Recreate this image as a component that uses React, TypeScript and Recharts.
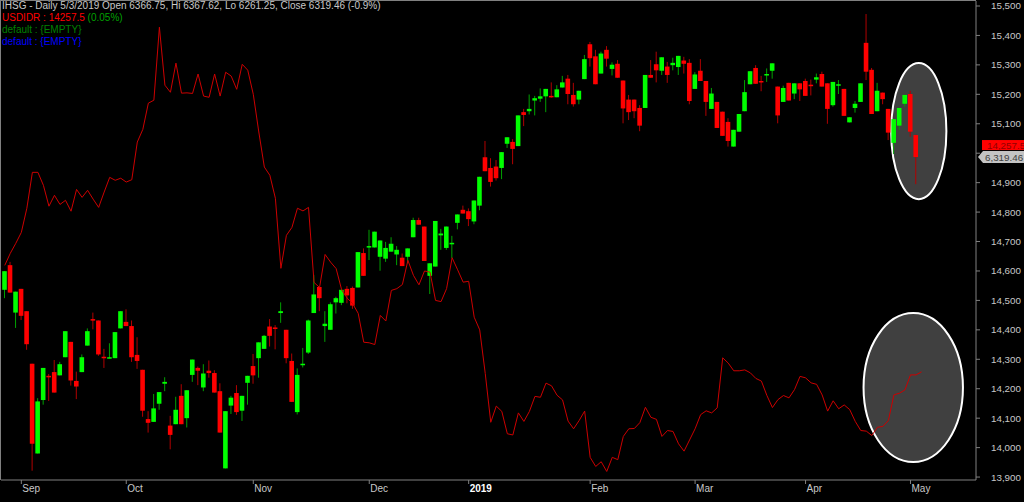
import React from "react";
import {
  ComposedChart,
  Bar,
  Line,
  XAxis,
  YAxis,
  ReferenceArea,
  ReferenceLine,
} from "recharts";

// IHSG daily candles, Aug 29 2018 .. May 3 2019 (one entry per trading day)
const opens = [
  6034, 6087, 5985, 6036, 5988, 5875, 5682, 5797, 5849, 5857,
  5850, 5889, 5922, 5838, 5857, 5914, 5971, 5968, 5890, 5887,
  5887, 5951, 5965, 5956, 5894, 5862, 5756, 5750, 5789, 5832,
  5742, 5745, 5806, 5758, 5851, 5866, 5824, 5860, 5855, 5816,
  5650, 5785, 5812, 5774, 5834, 5870, 5887, 5907, 5955, 5953,
  5984, 5948, 5881, 5771, 5872, 5899, 5984, 6040, 5956, 5948,
  6007, 6006, 6036, 6038, 6039, 6113, 6125, 6125, 6105, 6101,
  6116, 6110, 6103, 6105, 6147, 6184, 6170, 6064, 6084, 6151,
  6124, 6132, 6178, 6206, 6203, 6181, 6215, 6319, 6296, 6299,
  6296, 6348, 6352, 6343, 6416, 6418, 6441, 6445, 6450, 6451,
  6448, 6469, 6488, 6453, 6443, 6487, 6562, 6536, 6499, 6550,
  6509, 6520, 6484, 6443, 6443, 6425, 6425, 6496, 6519, 6505,
  6514, 6517, 6513, 6527, 6522, 6466, 6505, 6483, 6423, 6438,
  6417, 6395, 6342, 6374, 6418, 6476, 6511, 6483, 6495, 6505,
  6471, 6438, 6479, 6456, 6478, 6483, 6475, 6486, 6498, 6478,
  6431, 6474, 6466, 6394, 6425, 6438, 6565, 6507, 6418, 6458,
  6423, 6350, 6387, 6434, 6455, 6366.75,
];
const highs = [
  6074, 6094, 6030, 6036, 5988, 5875, 5801, 5866, 5853, 5883,
  5879, 5945, 5922, 5858, 5895, 5951, 5985, 5968, 5907, 5919,
  5943, 5988, 5992, 5968, 5932, 5862, 5773, 5810, 5814, 5846,
  5763, 5804, 5831, 5818, 5884, 5869, 5874, 5882, 5861, 5833,
  5773, 5806, 5829, 5806, 5849, 5896, 5921, 5937, 5971, 5958,
  6007, 5948, 5897, 5865, 5909, 5970, 6066, 6040, 5988, 6007,
  6019, 6034, 6042, 6041, 6115, 6123, 6163, 6159, 6140, 6137,
  6147, 6128, 6112, 6123, 6189, 6189, 6170, 6091, 6182, 6165,
  6170, 6150, 6196, 6215, 6209, 6226, 6277, 6354, 6317, 6313,
  6330, 6362, 6358, 6409, 6423, 6454, 6451, 6467, 6466, 6480,
  6474, 6494, 6496, 6479, 6462, 6539, 6567, 6550, 6546, 6558,
  6523, 6528, 6484, 6453, 6443, 6431, 6496, 6528, 6546, 6534,
  6524, 6533, 6537, 6535, 6530, 6502, 6530, 6483, 6468, 6438,
  6417, 6403, 6378, 6412, 6485, 6504, 6517, 6494, 6510, 6521,
  6471, 6473, 6479, 6478, 6478, 6488, 6486, 6499, 6503, 6478,
  6481, 6485, 6466, 6405, 6440, 6478, 6627, 6511, 6479, 6458,
  6423, 6401, 6425, 6453, 6462, 6367.62,
];
const lows = [
  6016, 6028, 5952, 5969, 5905, 5645, 5682, 5787, 5795, 5813,
  5850, 5889, 5828, 5799, 5857, 5914, 5949, 5892, 5866, 5887,
  5887, 5951, 5956, 5879, 5864, 5761, 5727, 5750, 5776, 5816,
  5691, 5745, 5745, 5738, 5836, 5829, 5816, 5845, 5813, 5727,
  5650, 5767, 5765, 5752, 5787, 5832, 5845, 5907, 5912, 5906,
  5963, 5876, 5793, 5766, 5867, 5896, 5984, 5988, 5922, 5948,
  5983, 6001, 6005, 5993, 6039, 6064, 6098, 6125, 6075, 6094,
  6116, 6087, 6085, 6091, 6147, 6174, 6096, 6025, 6084, 6120,
  6120, 6102, 6164, 6198, 6171, 6175, 6205, 6289, 6256, 6269,
  6272, 6339, 6304, 6343, 6386, 6411, 6409, 6438, 6416, 6447,
  6448, 6469, 6433, 6428, 6433, 6487, 6514, 6476, 6499, 6514,
  6495, 6490, 6392, 6399, 6403, 6375, 6425, 6490, 6480, 6496,
  6479, 6506, 6496, 6499, 6433, 6466, 6483, 6408, 6423, 6382,
  6365, 6342, 6342, 6374, 6418, 6476, 6477, 6461, 6481, 6488,
  6392, 6438, 6441, 6444, 6440, 6451, 6452, 6478, 6471, 6391,
  6428, 6455, 6408, 6394, 6415, 6438, 6485, 6412, 6418, 6433,
  6356, 6326, 6378, 6428, 6363, 6261.25,
];
const closes = [
  6074, 6028, 6030, 5978, 5917, 5703, 5794, 5866, 5846, 5813,
  5874, 5945, 5839, 5826, 5889, 5945, 5968, 5895, 5887, 5889,
  5943, 5988, 5956, 5889, 5881, 5774, 5748, 5779, 5814, 5836,
  5722, 5776, 5745, 5818, 5884, 5860, 5854, 5855, 5813, 5727,
  5773, 5802, 5771, 5806, 5849, 5850, 5921, 5935, 5935, 5950,
  5988, 5887, 5793, 5851, 5875, 5968, 6024, 6016, 5961, 6003,
  6016, 6034, 6022, 6000, 6115, 6064, 6128, 6159, 6140, 6124,
  6133, 6120, 6085, 6123, 6184, 6174, 6096, 6091, 6182, 6155,
  6170, 6135, 6196, 6198, 6186, 6226, 6277, 6289, 6266, 6274,
  6330, 6362, 6337, 6409, 6410, 6423, 6446, 6450, 6466, 6448,
  6465, 6480, 6455, 6433, 6462, 6530, 6532, 6476, 6542, 6531,
  6518, 6490, 6424, 6416, 6418, 6387, 6496, 6490, 6506, 6534,
  6496, 6522, 6537, 6520, 6440, 6497, 6483, 6438, 6456, 6382,
  6365, 6354, 6378, 6412, 6459, 6504, 6477, 6480, 6498, 6521,
  6409, 6468, 6441, 6478, 6465, 6451, 6472, 6491, 6471, 6423,
  6481, 6476, 6408, 6405, 6434, 6478, 6503, 6412, 6462, 6444,
  6372, 6401, 6425, 6453, 6374, 6319.46,
];

// USDIDR overlay (one more point than the candles)
const usdidr = [
  14619, 14660, 14694, 14731, 14813, 14935, 14935, 14891, 14820, 14857,
  14826, 14840, 14803, 14877, 14850, 14874, 14844, 14816, 14868, 14918,
  14908, 14915, 14902, 14910, 15038, 15081, 15170, 15180, 15428, 15231,
  15207, 15306, 15204, 15205, 15203, 15269, 15194, 15190, 15269, 15194,
  15275, 15262, 15217, 15302, 15282, 15200, 15072, 14953, 14925, 14847,
  14609, 14721, 14748, 14813, 14804, 14816, 14561, 14544, 14656, 14630,
  14608, 14536, 14508, 14489, 14456, 14358, 14356, 14350, 14449, 14430,
  14534, 14540, 14554, 14636, 14585, 14553, 14600, 14596, 14500, 14496,
  14540, 14645, 14604, 14562, 14565, 14443, 14400, 14252, 14086, 14141,
  14123, 14047, 14043, 14118, 14089, 14123, 14174, 14171, 14219, 14210,
  14178, 14162, 14090, 14064, 14092, 14124, 13967, 13936, 13952, 13919,
  13967, 13959, 14038, 14064, 14065, 14085, 14137, 14103, 14096, 14038,
  14058, 14055, 14013, 13988, 14026, 14064, 14112, 14125, 14118, 14135,
  14305, 14287, 14261, 14261, 14264, 14254, 14235, 14226, 14177, 14136,
  14163, 14177, 14169, 14197, 14242, 14237, 14220, 14215, 14179, 14124,
  14159, 14132, 14145, 14129, 14089, 14058, 14056, 14041, 14069, 14072,
  14092, 14179, 14185, 14196, 14247, 14247, 14257.5,
];

const monthTickIdx = [3, 22, 45, 66, 84, 106, 125, 145, 164];
const monthLabels = ["Sep", "Oct", "Nov", "Dec", "2019", "Feb", "Mar", "Apr", "May"];
const usdTicks = [
  13900, 14000, 14100, 14200, 14300, 14400, 14500, 14600, 14700,
  14800, 14900, 15000, 15100, 15200, 15300, 15400, 15500,
];
const hiddenTickLabel = 15000; // sits under the price tags
const SLOTS = 176; // empty space kept to the right of the last bar

const rows = Array.from({ length: SLOTS }, (_, i) => ({
  i,
  o: opens[i],
  h: highs[i],
  l: lows[i],
  c: closes[i],
  u: usdidr[i],
}));

const FONT = "'Liberation Sans', Arial, sans-serif";

function Candle(props: any) {
  const { x, y, width, height, payload } = props;
  if (!payload || payload.o == null) return null;
  const top = Math.min(y, y + height);
  const span = Math.abs(height);
  const range = payload.h - payload.l;
  const at = (p: number) => (range > 0 ? top + ((payload.h - p) / range) * span : top);
  const up = payload.c >= payload.o;
  const cx = x + width / 2;
  const bTop = at(Math.max(payload.o, payload.c));
  const bH = Math.max(at(Math.min(payload.o, payload.c)) - bTop, 1.5);
  return (
    <g>
      <rect x={cx - 0.5} y={top} width={1} height={Math.max(span, 1)} fill={up ? "#00a000" : "#b00000"} />
      <rect x={cx - 2.3} y={bTop} width={4.6} height={bH} fill={up ? "#00ff00" : "#ff0000"} />
    </g>
  );
}

function Ellipse(props: any) {
  const { x, y, width, height } = props;
  return (
    <ellipse
      cx={x + width / 2}
      cy={y + height / 2}
      rx={width / 2}
      ry={height / 2}
      fill="#404040"
      stroke="#ffffff"
      strokeWidth={2}
    />
  );
}

function MonthTick(props: any) {
  const { x, y, payload } = props;
  const label = monthLabels[monthTickIdx.indexOf(payload.value)];
  const bold = label === "2019";
  return (
    <g>
      <line x1={x} x2={x} y1={y} y2={y + 4} stroke="#808080" />
      <text
        x={x + 1}
        y={y + 12}
        fill={bold ? "#ffffff" : "#c8c8c8"}
        fontWeight={bold ? "bold" : "normal"}
        fontSize={10}
        fontFamily={FONT}
      >
        {label}
      </text>
    </g>
  );
}

function UsdTick(props: any) {
  const { x, y, payload } = props;
  if (payload.value === hiddenTickLabel) return <g />;
  return (
    <text x={x} y={y} dy="0.355em" textAnchor="start" fill="#c8c8c8" fontSize={9.8} fontFamily={FONT}>
      {payload.value.toLocaleString("en-US")}
    </text>
  );
}

function PriceTags(props: any) {
  const vb = props.viewBox || {};
  const r = vb.x + vb.width;
  const y = vb.y;
  return (
    <g fontFamily={FONT} fontSize={9.8}>
      <rect x={r + 6} y={y - 17} width={50} height={10} fill="#ff0000" />
      <text x={r + 11} y={y - 8.4} fill="#900000">
        14,257.5
      </text>
      <polygon
        points={`${r + 2},${y} ${r + 7},${y - 6} ${r + 52},${y - 6} ${r + 52},${y + 6} ${r + 7},${y + 6}`}
        fill="#c4c4c4"
      />
      <text x={r + 9} y={y + 3.6} fill="#404040">
        6,319.46
      </text>
    </g>
  );
}

export default function App() {
  return (
    <div style={{ position: "relative", width: 1024, height: 502, background: "#000", overflow: "hidden" }}>
      <style>{`body{margin:0;background:#000}`}</style>
      <ComposedChart width={1024} height={502} data={rows} margin={{ top: 1, right: 0, bottom: 0, left: 1 }}>
        <XAxis
          dataKey="i"
          type="category"
          ticks={monthTickIdx}
          interval={0}
          tick={<MonthTick />}
          tickLine={false}
          tickSize={0}
          tickMargin={0}
          axisLine={{ stroke: "#808080" }}
          height={22}
          padding={{ left: 1, right: 2 }}
        />
        <YAxis yAxisId="ihsg" hide domain={[5625, 6655]} allowDataOverflow />
        <YAxis
          yAxisId="usd"
          orientation="right"
          domain={[13890, 15517]}
          allowDataOverflow
          ticks={usdTicks}
          interval={0}
          width={48}
          tickSize={4}
          tickMargin={11}
          tick={<UsdTick />}
          axisLine={{ stroke: "#808080" }}
          tickLine={{ stroke: "#808080" }}
        />
        <ReferenceArea
          yAxisId="usd"
          x1={161}
          x2={170}
          y1={14844}
          y2={15306}
          ifOverflow="visible"
          shape={(p: any) => <Ellipse {...p} />}
        />
        <ReferenceArea
          yAxisId="usd"
          x1={156}
          x2={173}
          y1={13951}
          y2={14457}
          ifOverflow="visible"
          shape={(p: any) => <Ellipse {...p} />}
        />
        <Bar
          yAxisId="ihsg"
          dataKey={(d: any) => (d.o == null ? null : [d.l, d.h])}
          shape={(p: any) => <Candle {...p} />}
          barSize={5}
          isAnimationActive={false}
        />
        <Line
          yAxisId="usd"
          dataKey="u"
          type="linear"
          stroke="#cc0000"
          strokeWidth={1}
          dot={false}
          activeDot={false}
          isAnimationActive={false}
        />
        <ReferenceLine
          yAxisId="ihsg"
          y={6319.46}
          stroke="none"
          ifOverflow="visible"
          label={(p: any) => <PriceTags {...p} />}
        />
      </ComposedChart>
      <div
        style={{
          position: "absolute",
          left: 0,
          top: 0,
          width: 976,
          height: 480,
          borderLeft: "1px solid #808080",
          borderTop: "1px solid #808080",
          boxSizing: "border-box",
          pointerEvents: "none",
        }}
      />
      <div
        style={{
          position: "absolute",
          left: 2,
          top: 0,
          fontFamily: FONT,
          fontSize: 10,
          lineHeight: "12px",
          whiteSpace: "nowrap",
        }}
      >
        <div style={{ color: "#c8c8c8" }}>
          IHSG - Daily 5/3/2019 Open 6366.75, Hi 6367.62, Lo 6261.25, Close 6319.46 (-0.9%)
        </div>
        <div>
          <span style={{ color: "#ff0000" }}>USDIDR : 14257.5 </span>
          <span style={{ color: "#00a000" }}>(0.05%)</span>
        </div>
        <div style={{ color: "#008000" }}>default : {"{EMPTY}"}</div>
        <div style={{ color: "#0000ff" }}>default : {"{EMPTY}"}</div>
      </div>
    </div>
  );
}
